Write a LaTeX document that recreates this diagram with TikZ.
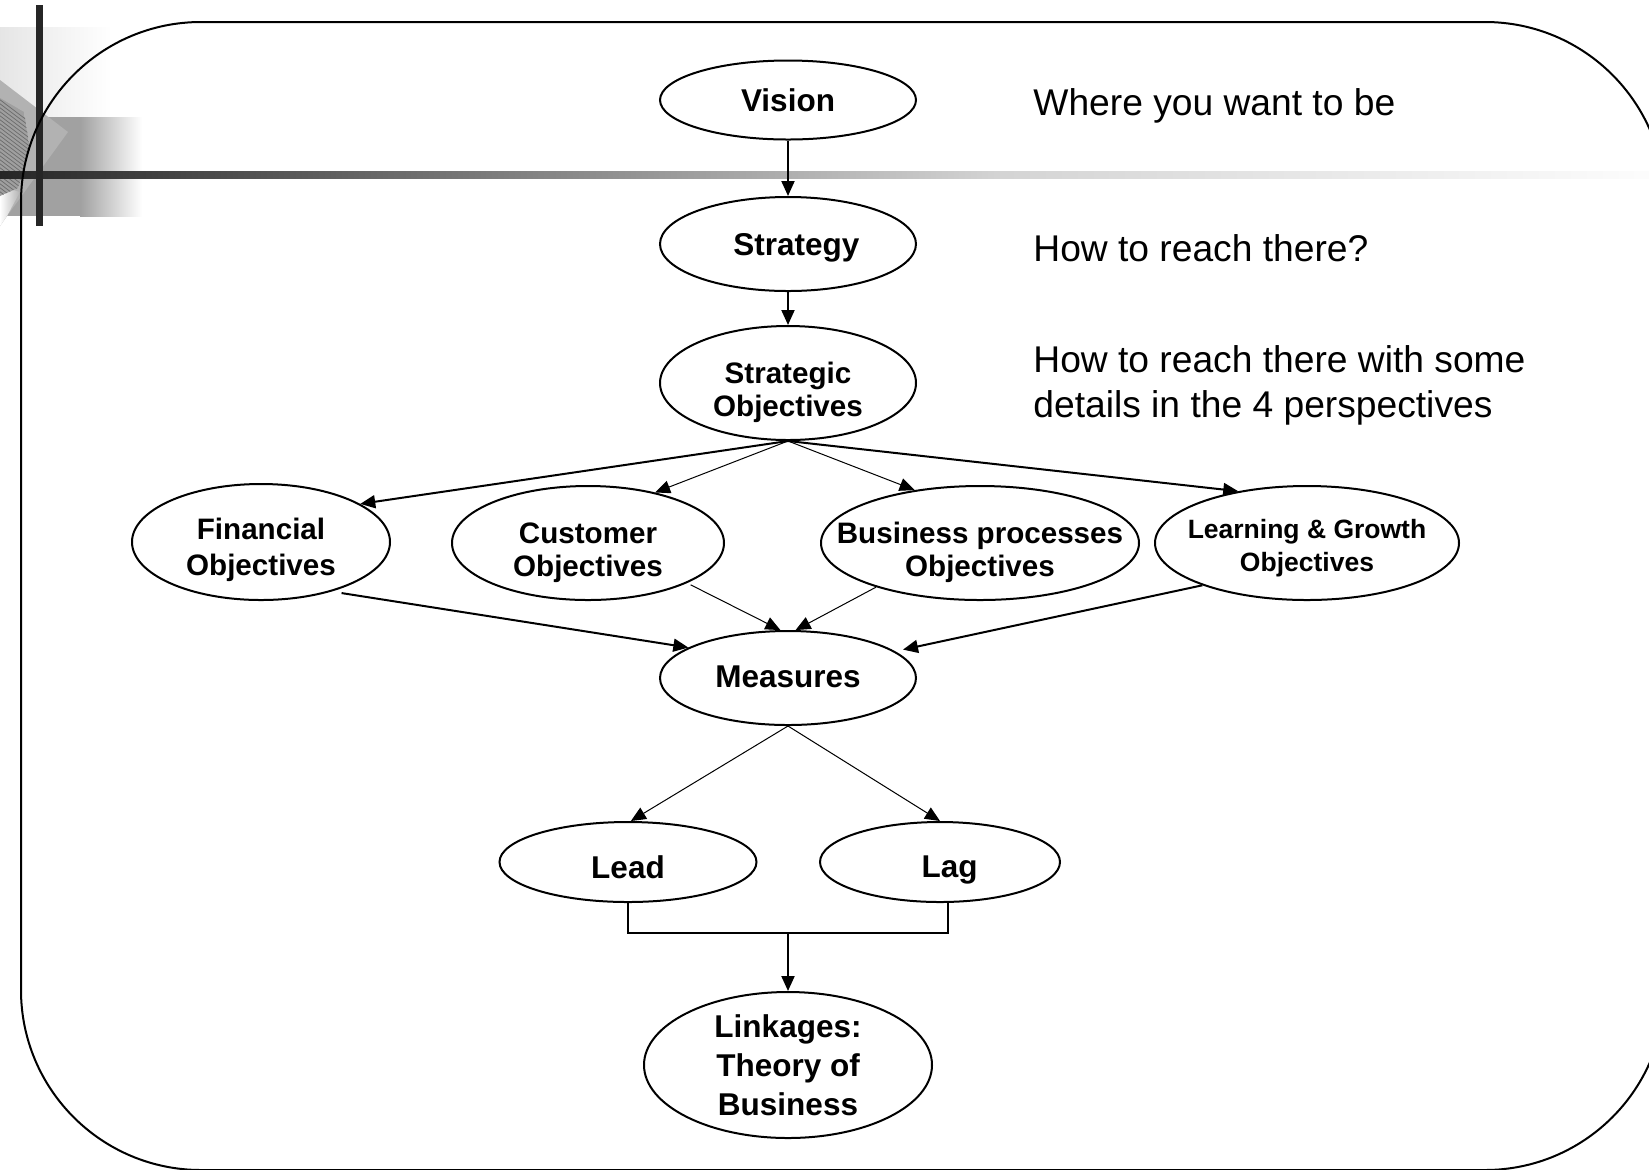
\documentclass[tikz,border=0pt]{standalone}
\usepackage{fontspec}
\setmainfont{Liberation Sans}
\usetikzlibrary{arrows.meta,shapes.geometric}

\definecolor{barDark}{gray}{0.15}
\definecolor{barMid}{gray}{0.83}
\definecolor{barEnd}{gray}{0.99}
\definecolor{panelLight}{gray}{0.90}
\definecolor{panelGrey}{gray}{0.63}
\definecolor{pageGrey}{gray}{0.70}
\definecolor{pageText}{gray}{0.42}

% centred label text moved right by #1 and down by #2 without changing its box
\newcommand{\ovaltext}[3]{\raisebox{-#2}[\height][\depth]{\kern#1\kern#1\begin{tabular}{@{}c@{}}#3\end{tabular}}}

\begin{document}
\begin{tikzpicture}[x=0.5pt, y=-0.5pt,
  oval/.style={ellipse, draw, line width=1pt, inner xsep=-25pt, inner ysep=-12pt,
    align=center, font=\bfseries\fontsize{15.75}{19.5}\selectfont},
  ovalsmall/.style={oval, font=\bfseries\fontsize{14.8}{16.8}\selectfont},
  link/.style={line width=1pt, -{Triangle[length=7.5pt,width=6.5pt]}},
  thinlink/.style={line width=0.5pt, -{Triangle[length=7.5pt,width=6.5pt]}},
  bracket/.style={line width=1pt},
  note/.style={anchor=west, align=left, inner sep=0pt, font=\fontsize{18.6}{22.5}\selectfont}
]
\useasboundingbox (0,0) rectangle (1649,1169);
\fill[white] (0,0) rectangle (1649,1169);

% ---- corner ornament: shaded panels, tilted page and crossing bars
\shade[left color=panelLight, right color=white] (0,27) rectangle (112,117);
\fill[panelGrey] (0,117) rectangle (80,216);
\shade[left color=panelGrey, right color=white] (80,117) rectangle (142,216);
\fill[pageGrey] (0,80) -- (68,132) -- (7,216) -- (0,226) -- cycle;
\shade[left color=white, right color=pageGrey] (0,186) -- (20,192) -- (7,216) -- (0,226) -- cycle;
\begin{scope}
  \clip (0,98) -- (24,112) -- (30,150) -- (18,188) -- (0,196) -- cycle;
  \fill[gray!75] (0,98) -- (24,112) -- (30,150) -- (18,188) -- (0,196) -- cycle;
  \foreach \k in {0,...,28} {
    \draw[pageText, line width=0.35pt] (-5,{96+\k*4}) -- (40,{96+\k*4+34});
  }
\end{scope}
\shade[left color=barDark, right color=barMid] (0,171) rectangle (1000,178);
\shade[left color=barMid, right color=barEnd] (1000,171) rectangle (1649,178);
\fill[barDark] (36,5) rectangle (43,226);

% ---- slide frame
\draw[line width=1pt, rounded corners=90pt] (21,22) rectangle (1665,1170);

% ---- nodes
\node[oval, minimum width=128pt, minimum height=39.5pt] (vision) at (788,100) {\ovaltext{0pt}{1.75pt}{Vision}};
\node[oval, minimum width=128pt, minimum height=47pt] (strategy) at (788,244) {\ovaltext{4.2pt}{1.6pt}{Strategy}};
\node[ovalsmall, minimum width=128pt, minimum height=57pt] (strobj) at (788,383) {\ovaltext{0pt}{5.2pt}{Strategic\\Objectives}};

\node[ovalsmall, minimum width=129pt, minimum height=58pt, font=\bfseries\fontsize{14.8}{17.9}\selectfont] (fin) at (261,542) {\ovaltext{0pt}{4pt}{Financial\\Objectives}};
\node[ovalsmall, minimum width=136pt, minimum height=57pt] (cust) at (588,543) {\ovaltext{0pt}{5.2pt}{Customer\\Objectives}};
\node[ovalsmall, minimum width=159pt, minimum height=57pt] (bus) at (980,543) {\ovaltext{0pt}{5.2pt}{Business processes\\Objectives}};
\node[oval, minimum width=152pt, minimum height=57pt, font=\bfseries\fontsize{13.25}{16.3}\selectfont] (learn) at (1307,543) {\ovaltext{0pt}{2.8pt}{Learning \& Growth\\Objectives}};

\node[oval, minimum width=128pt, minimum height=47pt] (meas) at (788,678) {\ovaltext{0pt}{0.75pt}{Measures}};

\node[oval, minimum width=128.5pt, minimum height=40pt] (lead) at (628,862) {\ovaltext{0pt}{4.5pt}{Lead}};
\node[oval, minimum width=120pt, minimum height=40pt] (lag) at (940,862) {\ovaltext{4.8pt}{4pt}{Lag}};

\node[oval, minimum width=144pt, minimum height=73pt] (link) at (788,1065) {\ovaltext{0pt}{1.85pt}{Linkages:\\Theory of\\Business}};

% ---- side notes
\node[note] (n1) at (1033,106) {Where you want to be};
\node[note] (n2) at (1033,248) {How to reach there?};
\node[note] (n3) at (1033,385) {How to reach there with some\\details in the 4 perspectives};

% ---- connectors
\draw[link] (vision) -- (strategy);
\draw[link] (strategy) -- (strobj);

\draw[link] (strobj.south) -- (fin.21);
\draw[thinlink] (strobj.south) -- (cust.37);
\draw[thinlink] (strobj.south) -- (bus.141);
\draw[link] (strobj.south) -- (learn.143);

\draw[link, shorten <=5pt] (fin.-35) -- (meas.163);
\draw[thinlink, shorten <=2pt] (cust.-22) -- (meas.99);
\draw[thinlink] (bus.-157) -- (meas.81);
\draw[link, shorten >=4pt] (learn.-158) -- (meas.14);

\draw[thinlink] (meas.south) -- (lead.86);
\draw[thinlink] (meas.south) -- (lag.90);

\coordinate (barY) at (0,933);
\coordinate (lagfoot) at ([xshift=4pt]lag.south);
\draw[bracket] (lead.south) |- (lagfoot |- barY) -- (lagfoot);
\draw[link] (link.north |- barY) -- (link.north);
\end{tikzpicture}
\end{document}
